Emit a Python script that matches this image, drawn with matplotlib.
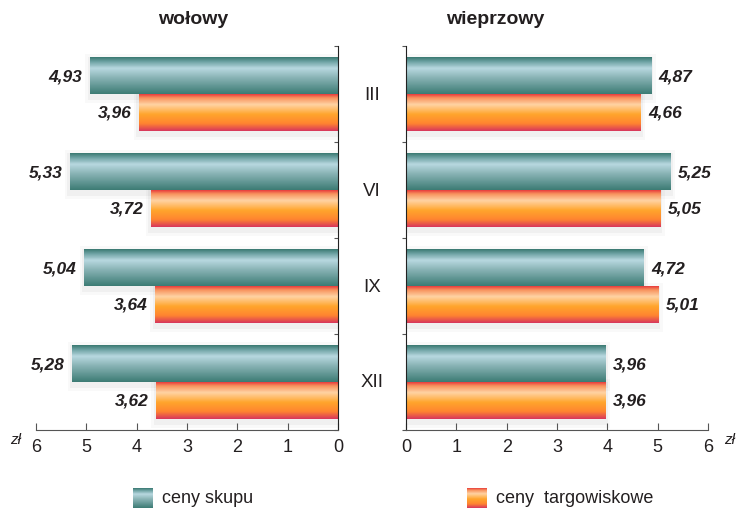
import numpy as np
import matplotlib.pyplot as plt
from matplotlib.colors import LinearSegmentedColormap
from matplotlib.patches import Rectangle

# average prices, zł/kg
months = ["III", "VI", "IX", "XII"]
beef_purchase = [4.93, 5.33, 5.04, 5.28]
beef_market = [3.96, 3.72, 3.64, 3.62]
pork_purchase = [4.87, 5.25, 4.72, 3.96]
pork_market = [4.66, 5.05, 5.01, 3.96]

teal = LinearSegmentedColormap.from_list(
    "teal", [(0, "#3b7a73"), (0.12, "#6fa3a4"), (0.3, "#b8d8e0"),
             (0.55, "#8ab4b6"), (1, "#3d7c75")])
orange = LinearSegmentedColormap.from_list(
    "orange", [(0, "#e8403e"), (0.1, "#f8945e"), (0.28, "#ffd3a4"),
               (0.55, "#ffa52c"), (0.8, "#ff8530"), (1, "#d8385c")])

TXT = "#231f20"
plt.rcParams["font.family"] = ["Liberation Sans", "DejaVu Sans"]

grad = np.linspace(0, 1, 64).reshape(-1, 1)
H = 0.385


def gbar(ax, x, y_top, h, cmap):
    # soft shadow
    for k, a in [(0.06, 0.025), (0.03, 0.035)]:
        ax.add_patch(Rectangle((0, y_top - k + 0.03), x + k * 1.5, h + 2 * k,
                               color="#000000", alpha=a, lw=0, zorder=1))
    ax.imshow(grad, cmap=cmap, aspect="auto", extent=(0, x, y_top + h, y_top),
              origin="upper", zorder=2, interpolation="bilinear")


fig = plt.figure(figsize=(7.4, 5.1), dpi=100)
axL = fig.add_axes([36 / 740, 1 - 431 / 510, 302 / 740, 384 / 510])
axR = fig.add_axes([406 / 740, 1 - 431 / 510, 302 / 740, 384 / 510])

for ax, purch, market, side in [(axL, beef_purchase, beef_market, "L"),
                                 (axR, pork_purchase, pork_market, "R")]:
    for i in range(len(months)):
        c = i + 0.5
        gbar(ax, purch[i], c - H, H, teal)
        gbar(ax, market[i], c, H, orange)
        for v, yc in [(purch[i], c - H / 2), (market[i], c + H / 2)]:
            lab = f"{v:.2f}".replace(".", ",")
            ax.text(v + 0.15, yc, lab, ha="right" if side == "L" else "left",
                    va="center", fontsize=12.5, fontweight="bold",
                    fontstyle="italic", color=TXT)
    ax.set_ylim(4, 0)
    ax.set_yticks([0, 1, 2, 3, 4])
    ax.set_yticklabels([])
    ax.tick_params(axis="y", length=3, width=0.8, color="#555555")
    ax.tick_params(axis="x", direction="in", length=5, width=0.8,
                   color="#555555", labelsize=13, labelcolor=TXT, pad=6)
    ax.set_xticks(range(7))
    for s in ["top", "left", "right"]:
        ax.spines[s].set_visible(False)
    ax.spines["bottom"].set_color("#555555")
    ax.spines["bottom"].set_linewidth(0.8)

axL.set_xlim(6, 0)
axL.spines["right"].set_visible(True)
axL.spines["right"].set_color("#222222")
axL.yaxis.tick_right()
axL.tick_params(axis="y", direction="in")
axR.set_xlim(0, 6)
axR.spines["left"].set_visible(True)
axR.spines["left"].set_color("#222222")

for i, m in enumerate(months):
    fig.text(372 / 740, 1 - (95 + 96 * i) / 510, m, ha="center", va="center",
             fontsize=13.5, color=TXT)

fig.text(193 / 740, 1 - 20 / 510, "wołowy", ha="center", va="center",
         fontsize=14, fontweight="bold", color=TXT)
fig.text(495 / 740, 1 - 20 / 510, "wieprzowy", ha="center", va="center",
         fontsize=14, fontweight="bold", color=TXT)
fig.text(10 / 740, 1 - 440 / 510, "zł", ha="left", va="center",
         fontsize=11, fontstyle="italic", color=TXT)
fig.text(724 / 740, 1 - 440 / 510, "zł", ha="left", va="center",
         fontsize=11, fontstyle="italic", color=TXT)

# legend
for x0, cmap, lab in [(133, teal, "ceny skupu"), (467, orange, "ceny  targowiskowe")]:
    lax = fig.add_axes([x0 / 740, 1 - 509 / 510, 20 / 740, 20 / 510])
    lax.imshow(grad, cmap=cmap, aspect="auto", interpolation="bilinear")
    lax.axis("off")
    fig.text((x0 + 29) / 740, 1 - 499 / 510, lab, ha="left", va="center",
             fontsize=13, color=TXT)

fig.savefig("out.png", dpi=100)
